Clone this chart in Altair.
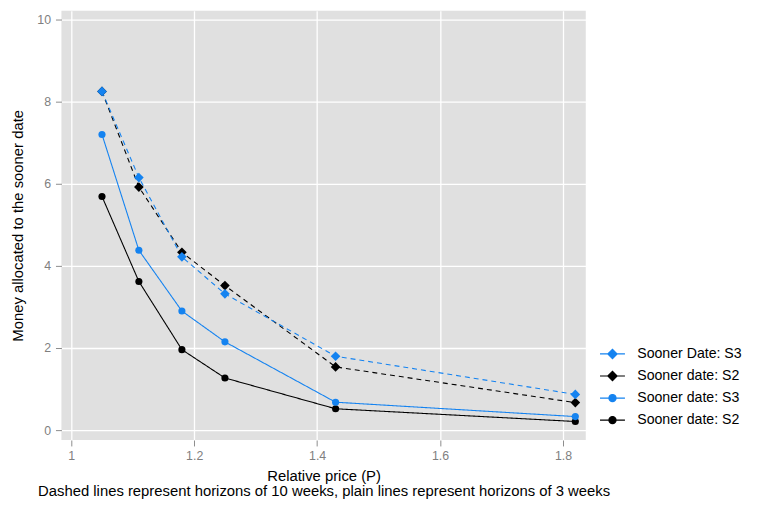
import math
import altair as alt
import pandas as pd

# ---- data ----
price = [1.05, 1.11, 1.18, 1.25, 1.43, 1.82]
s3_10w = [8.25, 6.15, 4.22, 3.32, 1.80, 0.87]   # Sooner Date: S3 (dashed)
s2_10w = [8.25, 5.92, 4.33, 3.52, 1.54, 0.67]   # Sooner date: S2 (dashed)
s3_3w = [7.20, 4.38, 2.90, 2.15, 0.68, 0.33]    # Sooner date: S3 (plain)
s2_3w = [5.69, 3.62, 1.96, 1.27, 0.52, 0.21]    # Sooner date: S2 (plain)

keys = ["a", "b", "c", "d"]
labels = ["Sooner Date: S3", "Sooner date: S2", "Sooner date: S3", "Sooner date: S2"]
horizons = ["10", "10", "3", "3"]
BLUE = "#1583f0"
colors = [BLUE, "#000000", BLUE, "#000000"]
x_ticks = [1, 1.2, 1.4, 1.6, 1.8]
y_ticks = [0, 2, 4, 6, 8, 10]

series_vals = {"a": s3_10w, "b": s2_10w, "c": s3_3w, "d": s2_3w}
draw_order = ["b", "a", "d", "c"]
rows = []
for k in draw_order:
    i = keys.index(k)
    for p, v in zip(price, series_vals[k]):
        rows.append({"price": p, "money": v, "key": k, "series": k, "horizon": horizons[i]})
df = pd.DataFrame(rows)

FONT = "Liberation Sans"

x = alt.X("price:Q", scale=alt.Scale(domain=[0.984, 1.837], nice=False, zero=False),
          axis=alt.Axis(values=x_ticks, format="~g",
                        title=["Relative price (P)",
                               "Dashed lines represent horizons of 10 weeks, plain lines represent horizons of 3 weeks"]))
y = alt.Y("money:Q", scale=alt.Scale(domain=[-0.241, 10.217], nice=False, zero=False),
          axis=alt.Axis(values=y_ticks, title="Money allocated to the sooner date"))
# drawn marks: colour scale listed in drawing order (a different domain from the
# legend's scales, so Vega-Lite does not merge the hidden colour legend into it)
col_domain = draw_order
col_range = [colors[keys.index(k)] for k in draw_order]
color = alt.Color("series:N", scale=alt.Scale(domain=col_domain, range=col_range), legend=None)

base = alt.Chart(df)

lines = base.mark_line(strokeWidth=1.1).encode(
    x=x, y=y, color=color,
    strokeDash=alt.StrokeDash("horizon:N", scale=alt.Scale(domain=["10", "3"], range=[[5, 4], [1, 0]]), legend=None),
    detail="series:N",
)
diamonds = base.transform_filter("datum.horizon == '10'").mark_point(
    filled=True, shape="diamond", size=95, opacity=1).encode(x=x, y=y, color=color)
circles = base.transform_filter("datum.horizon == '3'").mark_point(
    filled=True, shape="circle", size=52, opacity=1).encode(x=x, y=y, color=color)

# legend glyphs: a horizontal line with a marker on it
diamond_path = "M-1.4,0L1.4,0M-0.52,0L0,-0.52L0.52,0L0,0.52Z"
r = 0.4
circ_pts = [(r * math.cos(2 * math.pi * j / 16), r * math.sin(2 * math.pi * j / 16)) for j in range(16)]
circle_path = "M-1.4,0L1.4,0M" + "L".join(f"{px:.3f},{py:.3f}" for px, py in circ_pts) + "Z"
shapes = [diamond_path, diamond_path, circle_path, circle_path]

label_expr = " : ".join(
    f"datum.label == '{k}' ? '{l}'" for k, l in zip(keys, labels)) + " : datum.label"
leg = alt.Legend(title=None, orient="none", legendX=547, legendY=337, padding=0,
                 labelExpr=label_expr, labelFont=FONT, labelFontSize=14.3,
                 labelColor="black", labelOffset=15, symbolSize=324, symbolStrokeWidth=1.2,
                 symbolOpacity=1, rowPadding=4.3)

# layer that only carries the legend (its own marks have zero size)
legend_layer = base.mark_point(filled=True, size=0, strokeWidth=1.2).encode(
    x=x, y=y,
    fill=alt.Fill("key:N", scale=alt.Scale(domain=keys, range=colors), legend=leg),
    stroke=alt.Stroke("key:N", scale=alt.Scale(domain=keys, range=colors), legend=leg),
    shape=alt.Shape("key:N", scale=alt.Scale(domain=keys, range=shapes), legend=leg),
)

chart = alt.layer(lines, diamonds, circles, legend_layer).properties(
    width=530, height=434,
    autosize=alt.AutoSizeParams(type="none"),
    padding={"left": 54, "top": 0, "right": 166, "bottom": 62},
).configure_view(fill="#e0e0e0", stroke=None).configure_axis(
    domain=False, grid=True, gridColor="white", gridWidth=1.3,
    tickColor="#8c8c8c", tickSize=6, tickWidth=1,
    labelColor="#7f7f7f", labelFont=FONT, labelFontSize=12.5, labelPadding=4,
    titleFont=FONT, titleFontSize=15, titleFontWeight="normal", titleColor="black",
).configure_axisX(titlePadding=6, titleLineHeight=16).configure_axisY(titlePadding=11, labelPadding=5)

chart.save("out.html", embed_options={"renderer": "svg", "actions": False})
